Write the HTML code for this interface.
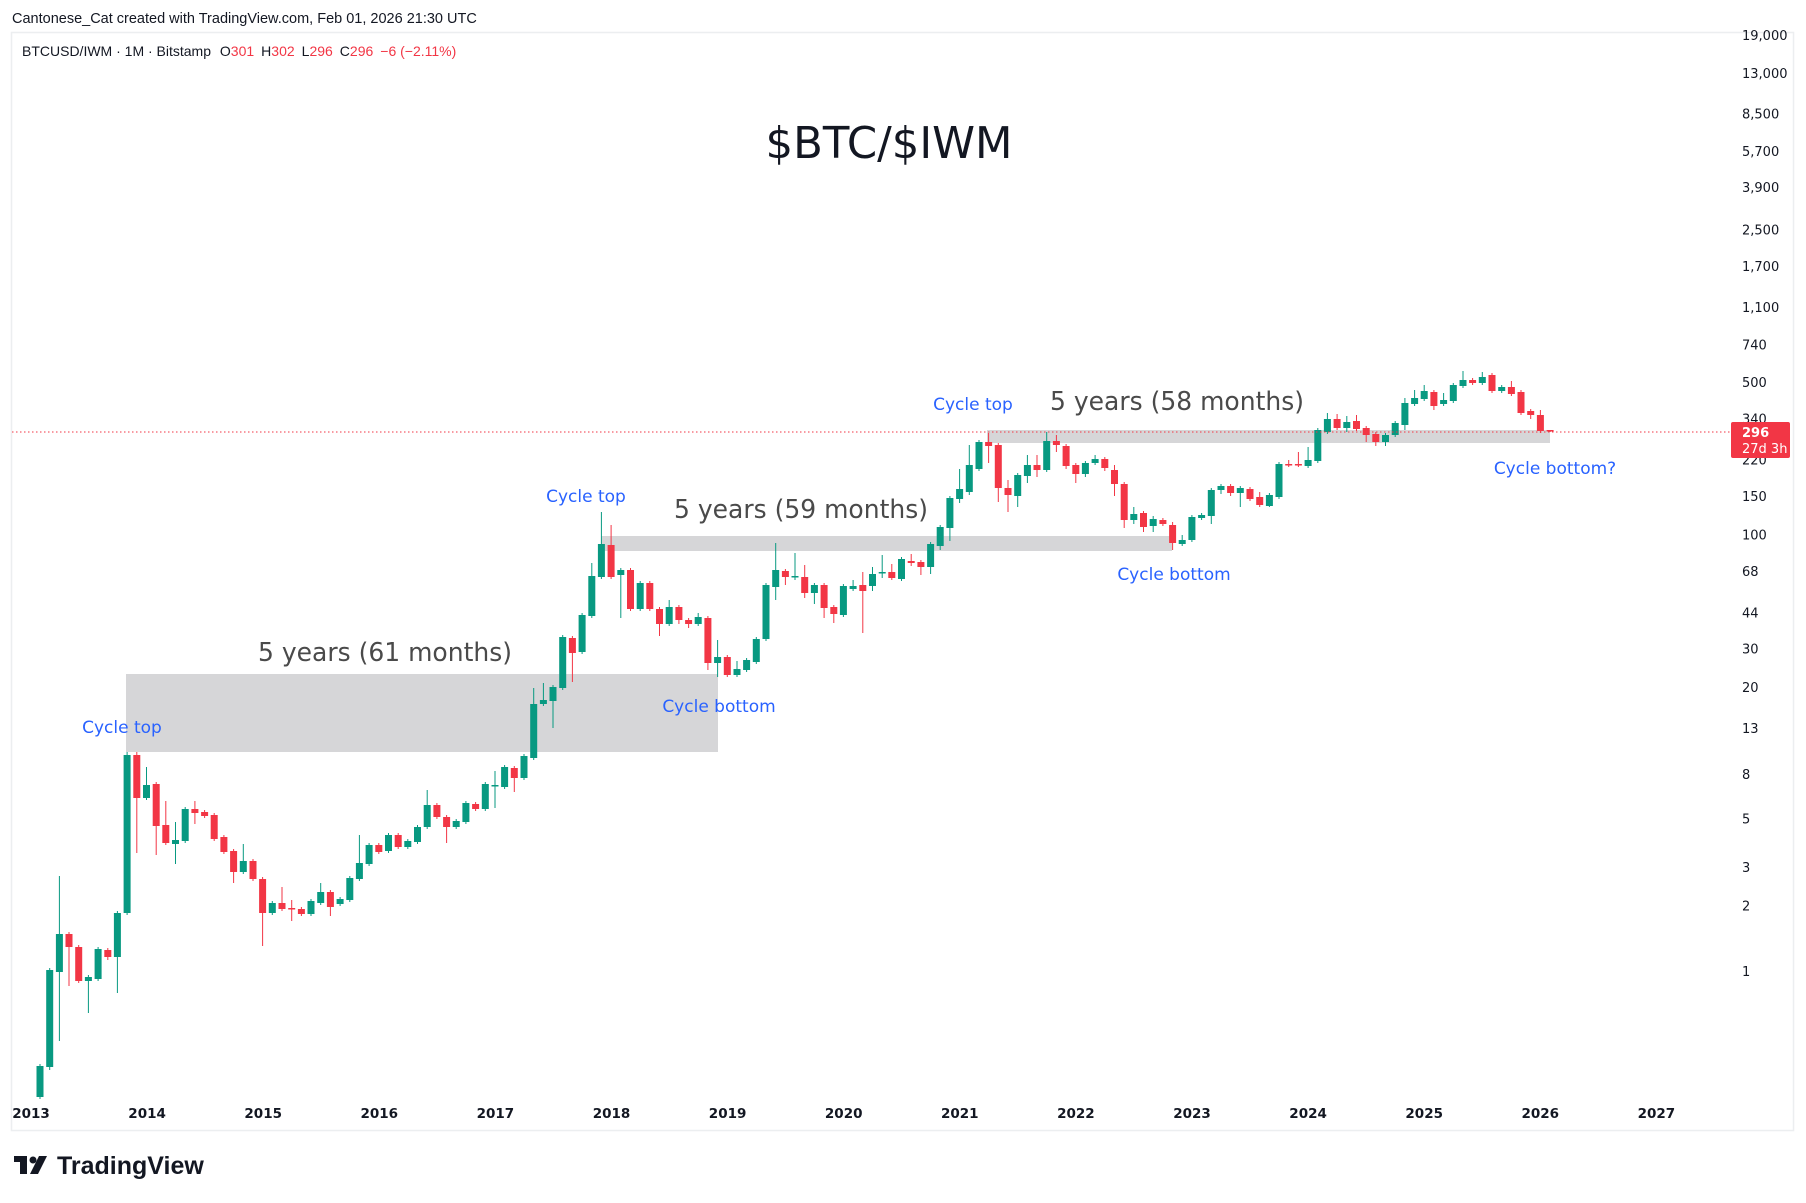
<!DOCTYPE html>
<html><head><meta charset="utf-8"><style>
html,body{margin:0;padding:0;background:#fff;}
body{width:1806px;height:1203px;overflow:hidden;position:relative;font-family:"Liberation Sans",sans-serif;}
</style></head><body>
<svg id="s" width="1806" height="1203" xmlns="http://www.w3.org/2000/svg" style="position:absolute;left:0;top:0">
<text x="12" y="23" font-size="14.5" fill="#131722" font-family="Liberation Sans, sans-serif">Cantonese_Cat created with TradingView.com, Feb 01, 2026 21:30 UTC</text>
<rect x="11.5" y="32.5" width="1782" height="1098" fill="none" stroke="#eceef0" stroke-width="1.5"/>
<text x="22" y="56" font-size="14" fill="#131722" font-family="Liberation Sans, sans-serif">BTCUSD/IWM · 1M · Bitstamp <tspan dx="5">O</tspan><tspan fill="#f23645">301</tspan><tspan dx="7">H</tspan><tspan fill="#f23645">302</tspan><tspan dx="7">L</tspan><tspan fill="#f23645">296</tspan><tspan dx="7">C</tspan><tspan fill="#f23645">296</tspan><tspan dx="7" fill="#f23645">−6 (−2.11%)</tspan></text>
<text x="889" y="158" font-size="44" fill="#131722" text-anchor="middle" font-family="DejaVu Sans, sans-serif" textLength="247" lengthAdjust="spacingAndGlyphs">$BTC/$IWM</text>
<rect x="126" y="674" width="592" height="78" fill="#d6d6d8"/>
<rect x="601" y="536" width="571" height="15" fill="#d6d6d8"/>
<rect x="987" y="430" width="563" height="13" fill="#d6d6d8"/>
<g id="c"></g>
<line x1="12" y1="432" x2="1731" y2="432" stroke="#f23645" stroke-width="1" stroke-dasharray="1.5,2.5"/>
<g font-family="DejaVu Sans, sans-serif" fill="#2962ff" font-size="17" text-anchor="middle">
<text x="122" y="733">Cycle top</text>
<text x="586" y="502">Cycle top</text>
<text x="719" y="712">Cycle bottom</text>
<text x="973" y="410">Cycle top</text>
<text x="1174" y="580">Cycle bottom</text>
<text x="1555" y="474">Cycle bottom?</text>
</g>
<g font-family="DejaVu Sans, sans-serif" fill="#4a4a4a" font-size="26" text-anchor="middle">
<text x="385" y="661" textLength="254" lengthAdjust="spacingAndGlyphs">5 years (61 months)</text>
<text x="801" y="518" textLength="254" lengthAdjust="spacingAndGlyphs">5 years (59 months)</text>
<text x="1177" y="410" textLength="254" lengthAdjust="spacingAndGlyphs">5 years (58 months)</text>
</g>
<g id="ax" font-family="DejaVu Sans, sans-serif" font-size="13" fill="#131722"></g>
<g id="yr" font-family="DejaVu Sans, sans-serif" font-size="13.5" font-weight="bold" fill="#131722" text-anchor="middle"></g>
<rect x="1731" y="422" width="59" height="36" rx="2" fill="#f23645"/>
<text x="1742" y="437" font-size="13" font-weight="bold" fill="#fff" font-family="DejaVu Sans, sans-serif">296</text>
<text x="1742" y="453" font-size="13" fill="#fff" font-family="DejaVu Sans, sans-serif">27d 3h</text>
<g transform="translate(14,1156)">
<rect x="0" y="0" width="13" height="6" fill="#131722"/><rect x="6" y="0" width="7" height="18" fill="#131722"/>
<circle cx="19" cy="4" r="3.5" fill="#131722"/><polygon points="25,0 33,0 24,18 16,18" fill="#131722"/>
</g>
<text x="57" y="1174" font-size="25" font-weight="bold" fill="#131722" font-family="Liberation Sans, sans-serif">TradingView</text>
</svg>
<script>
var D=[[1097,1066,1064,1099],[1067,970,968,1070],[972,934,876,1041],[934,947,932,986],[947,981,945,983],[981,977,975,1013],[979,949,947,981],[950,957,948,960],[957,913,911,993],[913,755,752,915],
[755,798,752,853],[798,785,767,800],[784,826,782,855],[825,843,801,845],[844,840,822,864],[841,809,807,843],[809,813,801,824],[812,816,810,818],[815,839,813,841],[837,852,835,854],
[851,872,849,883],[872,861,844,874],[861,879,859,881],[879,913,877,946],[913,903,901,915],[903,909,887,911],[908,909,900,921],[909,914,907,916],[914,901,899,916],[903,892,883,905],
[892,907,890,916],[904,899,897,906],[900,878,876,902],[879,863,835,881],[864,845,843,866],[845,852,843,854],[851,835,833,853],[835,847,833,849],[847,841,839,849],[842,827,825,844],
[827,805,790,829],[805,817,803,819],[817,827,815,843],[827,821,819,829],[822,803,801,824],[804,809,802,811],[809,784,782,811],[785,785,771,808],[787,767,765,789],[768,778,766,792],
[778,756,754,780],[758,704,688,760],[704,700,683,706],[701,687,685,728],[688,637,635,690],[638,653,636,682],[652,615,613,654],[616,576,563,618],[577,544,512,579],[545,577,525,579],
[575,570,568,618],[570,609,568,611],[609,583,581,611],[583,609,581,611],[609,624,607,636],[624,607,600,626],[607,620,605,624],[620,624,618,628],[624,617,613,626],[618,663,616,670],
[663,657,640,677],[657,675,655,677],[675,669,661,677],[670,660,658,672],[662,639,637,664],[639,585,583,641],[587,570,543,600],[571,577,569,585],[576,576,553,580],[577,593,565,598],
[593,585,583,604],[585,608,583,618],[607,614,605,623],[615,586,584,617],[589,586,580,591],[585,591,572,633],[586,574,567,591],[572,572,555,578],[572,578,564,580],[579,559,557,581],
[561,563,554,566],[562,567,560,575],[567,544,542,574],[546,527,525,550],[528,498,496,541],[499,489,469,503],[492,465,445,495],[469,442,440,471],[442,446,433,463],[445,488,443,502],
[488,495,480,512],[496,475,473,507],[476,465,455,483],[465,470,455,477],[470,441,432,472],[441,445,435,452],[446,466,444,469],[465,474,463,483],[474,463,461,477],[463,459,455,465],
[459,468,457,471],[470,484,465,496],[484,520,482,528],[520,514,507,524],[513,527,511,532],[526,519,516,532],[520,524,518,526],[525,543,522,550],[544,540,535,546],[540,517,515,542],
[518,515,513,520],[516,490,488,524],[490,486,484,494],[486,493,484,496],[493,488,486,507],[489,499,487,501],[497,505,492,507],[506,495,493,507],[497,464,462,499],[464,465,460,467],
[464,465,452,467],[466,460,447,468],[461,430,428,463],[432,419,413,434],[419,428,414,430],[428,422,416,432],[421,429,415,431],[428,435,426,442],[434,442,432,446],[442,435,433,446],
[435,423,421,437],[425,403,398,430],[404,398,390,406],[399,391,385,401],[392,406,390,410],[404,400,393,406],[401,385,383,403],[386,380,371,388],[380,383,378,385],[383,377,372,385],
[375,391,373,393],[391,387,385,393],[387,394,381,396],[392,413,390,415],[411,415,409,419],[415,431,410,433],[430,431,430,432]];
var g=document.getElementById('c'),h='';
for(var i=0;i<D.length;i++){var d=D[i],x=40+9.68*i,up=d[1]<=d[0],col=up?'#089981':'#f23645';
var t=Math.min(d[0],d[1]),b=Math.max(d[0],d[1]);if(b-t<1.5){b=t+1.5;}
h+='<line x1="'+x.toFixed(1)+'" y1="'+d[2]+'" x2="'+x.toFixed(1)+'" y2="'+d[3]+'" stroke="'+col+'" stroke-width="1"/>';
h+='<rect x="'+(x-3.5).toFixed(1)+'" y="'+t+'" width="7" height="'+(b-t)+'" fill="'+col+'"/>';}
g.innerHTML=h;
var ax=document.getElementById('ax'),a='';
var V=[[19000,'19,000'],[13000,'13,000'],[8500,'8,500'],[5700,'5,700'],[3900,'3,900'],[2500,'2,500'],[1700,'1,700'],[1100,'1,100'],[740,'740'],[500,'500'],[340,'340'],[220,'220'],[150,'150'],[100,'100'],[68,'68'],[44,'44'],[30,'30'],[20,'20'],[13,'13'],[8,'8'],[5,'5'],[3,'3'],[2,'2'],[1,'1']];
for(var j=0;j<V.length;j++){var y=534.5-218.3*Math.log10(V[j][0]/100);var yy=y+5;if(j==0)yy=40;
a+='<text x="1742" y="'+yy.toFixed(1)+'">'+V[j][1]+'</text>';}
ax.innerHTML=a;
var yr=document.getElementById('yr'),s='';
for(var k=0;k<=14;k++){s+='<text x="'+(31+k*116.1).toFixed(1)+'" y="1118">'+(2013+k)+'</text>';}
yr.innerHTML=s;
</script>
</body></html>
